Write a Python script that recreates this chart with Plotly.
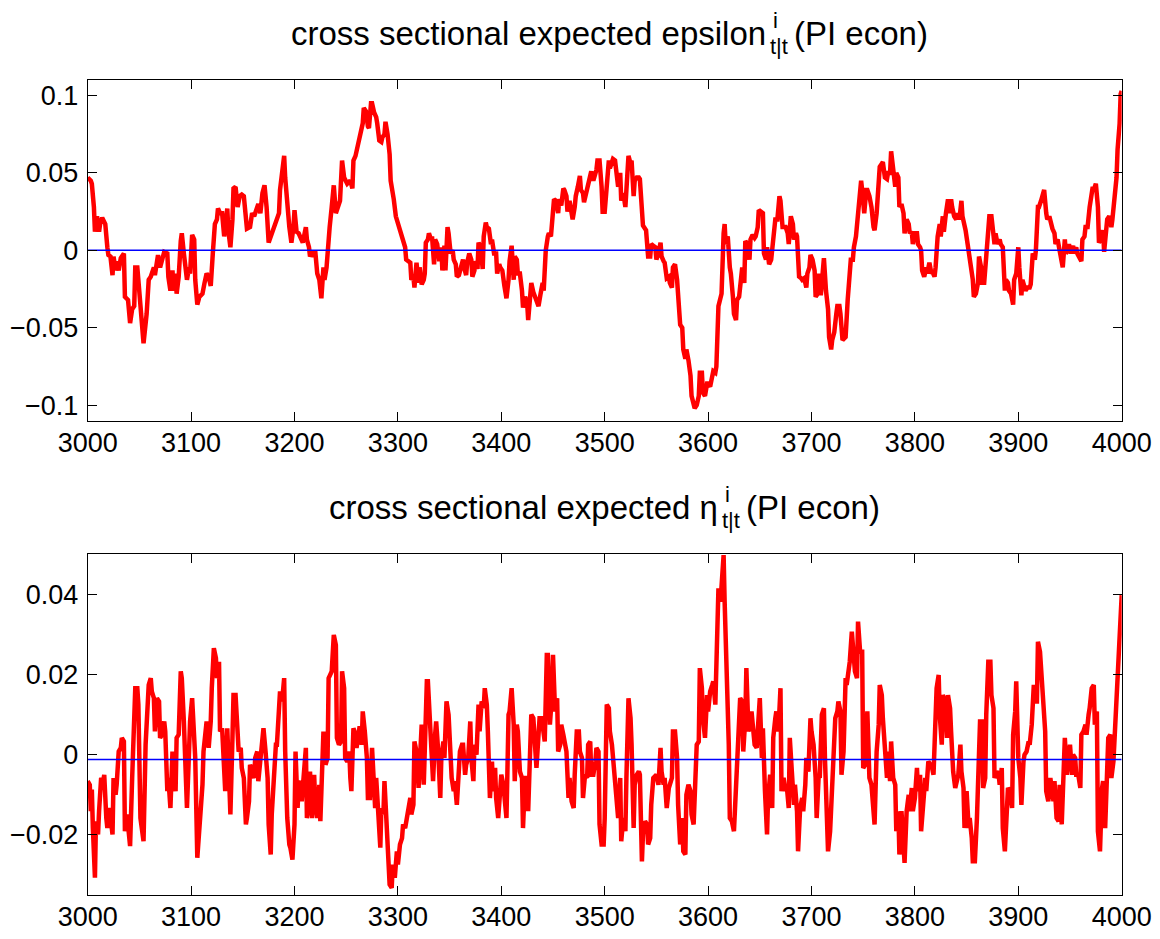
import plotly.graph_objects as go

# ---------------------------------------------------------------------------
# Data: cross-sectional expectations, periods 3000-4000
# ---------------------------------------------------------------------------
eps_points = [
    (3000, 0.047), (3003, 0.045), (3004, 0.043), (3006, 0.028), (3007, 0.012), (3009, 0.022), (3011, 0.012), (3012, 0.017), (3014, 0.021), (3017, 0.017),
    (3019, 0.002), (3020, -0.003), (3022, -0.004), (3024, -0.016), (3025, -0.004), (3027, -0.013), (3028, -0.007), (3030, -0.013), (3032, -0.005), (3035, -0.002),
    (3036, -0.030), (3039, -0.032), (3041, -0.047), (3043, -0.038), (3045, -0.036), (3046, -0.011), (3048, -0.011), (3050, -0.028), (3054, -0.060), (3057, -0.041),
    (3059, -0.019), (3061, -0.017), (3064, -0.011), (3065, -0.016), (3068, -0.003), (3070, -0.011), (3072, -0.006), (3074, -0.001), (3077, -0.002), (3078, -0.017),
    (3080, -0.026), (3082, -0.013), (3083, -0.026), (3085, -0.015), (3086, -0.028), (3088, -0.017), (3090, 0.006), (3091, 0.011), (3093, -0.002), (3095, -0.011),
    (3096, -0.019), (3098, -0.011), (3099, -0.015), (3101, 0.010), (3103, 0.007), (3104, -0.019), (3106, -0.035), (3108, -0.030), (3111, -0.028), (3113, -0.021),
    (3115, -0.015), (3117, -0.017), (3119, -0.023), (3121, -0.002), (3123, 0.017), (3125, 0.020), (3126, 0.027), (3128, 0.024), (3130, 0.024), (3132, 0.009),
    (3133, 0.015), (3135, 0.027), (3136, 0.013), (3138, 0.002), (3140, 0.020), (3141, 0.040), (3143, 0.041), (3145, 0.028), (3147, 0.035), (3149, 0.036),
    (3151, 0.035), (3152, 0.024), (3154, 0.014), (3157, 0.015), (3159, 0.024), (3161, 0.022), (3164, 0.028), (3165, 0.030), (3167, 0.024), (3169, 0.037),
    (3171, 0.042), (3173, 0.028), (3175, 0.005), (3177, 0.009), (3180, 0.013), (3183, 0.020), (3185, 0.024), (3186, 0.039), (3188, 0.050), (3190, 0.061),
    (3191, 0.047), (3193, 0.028), (3195, 0.015), (3197, 0.005), (3199, 0.015), (3200, 0.026), (3202, 0.012), (3204, 0.011), (3206, 0.007), (3208, 0.005),
    (3211, 0.015), (3212, 0.007), (3214, 0.002), (3215, -0.004), (3217, -0.001), (3219, -0.004), (3220, 0.000), (3222, -0.015), (3224, -0.019), (3226, -0.031),
    (3228, -0.011), (3229, -0.019), (3231, -0.011), (3233, 0.009), (3234, 0.015), (3236, 0.028), (3238, 0.042), (3240, 0.024), (3242, 0.028), (3244, 0.032),
    (3246, 0.058), (3248, 0.047), (3251, 0.043), (3254, 0.045),
    (3256, 0.040), (3257, 0.058), (3259, 0.061), (3262, 0.069), (3264, 0.077), (3266, 0.082), (3267, 0.092), (3269, 0.090), (3271, 0.080), (3272, 0.079),
    (3274, 0.095), (3275, 0.095), (3277, 0.089), (3279, 0.086), (3280, 0.082), (3282, 0.071), (3284, 0.070), (3285, 0.073), (3287, 0.075), (3288, 0.083),
    (3290, 0.075), (3292, 0.062), (3293, 0.045), (3295, 0.039), (3296, 0.033), (3298, 0.022), (3300, 0.017), (3302, 0.013), (3305, 0.007), (3307, 0.002),
    (3308, -0.006), (3310, -0.007), (3312, -0.008), (3313, -0.019), (3315, -0.017), (3316, -0.024), (3318, -0.008), (3320, -0.021), (3321, -0.011), (3323, -0.022),
    (3325, -0.019), (3326, -0.015), (3327, 0.005), (3329, 0.007), (3330, 0.011), (3332, 0.007), (3333, 0.009), (3335, -0.009), (3336, 0.007), (3338, 0.004),
    (3340, -0.007), (3342, 0.002), (3343, -0.013), (3345, 0.003), (3346, -0.013), (3348, 0.015), (3349, 0.011), (3351, -0.002), (3353, 0.000), (3354, -0.006),
    (3356, -0.009), (3357, -0.017), (3359, -0.016), (3361, -0.011), (3363, -0.006), (3364, -0.011), (3366, -0.016), (3367, -0.008), (3369, -0.002), (3371, -0.006),
    (3372, -0.017), (3374, -0.013), (3375, -0.007), (3377, -0.012), (3378, 0.005), (3380, 0.002), (3382, -0.012), (3383, 0.009), (3385, 0.018), (3386, 0.015),
    (3388, 0.014), (3390, 0.004), (3391, 0.007), (3393, -0.002), (3395, -0.002), (3396, -0.015), (3398, -0.009), (3399, -0.011), (3401, -0.013), (3403, -0.023),
    (3405, -0.031), (3407, -0.019), (3408, -0.007), (3410, 0.003), (3412, -0.019), (3413, -0.004), (3415, -0.006), (3416, -0.015), (3418, -0.015), (3420, -0.026),
    (3421, -0.037), (3423, -0.030), (3425, -0.034), (3426, -0.045), (3428, -0.032), (3429, -0.021), (3431, -0.027), (3433, -0.031), (3434, -0.034), (3436, -0.036),
    (3438, -0.028), (3440, -0.021), (3441, -0.026), (3443, 0.000), (3445, 0.009), (3446, 0.011), (3448, 0.009), (3450, 0.032), (3451, 0.033), (3453, 0.032),
    (3455, 0.024), (3456, 0.033), (3458, 0.029), (3460, 0.040), (3461, 0.039), (3463, 0.035), (3464, 0.025), (3466, 0.032), (3468, 0.024), (3469, 0.020),
    (3471, 0.028), (3472, 0.035), (3474, 0.041), (3476, 0.048), (3477, 0.039), (3479, 0.037), (3480, 0.031), (3482, 0.037), (3484, 0.043), (3485, 0.045),
    (3487, 0.051), (3489, 0.045), (3490, 0.047), (3492, 0.052), (3493, 0.058), (3495, 0.058), (3497, 0.041), (3498, 0.025), (3500, 0.025), (3502, 0.045),
    (3504, 0.058),
    (3505, 0.053), (3507, 0.058), (3508, 0.059), (3510, 0.058), (3512, 0.047), (3513, 0.041), (3515, 0.050), (3516, 0.032), (3518, 0.037), (3520, 0.028),
    (3521, 0.039), (3523, 0.061), (3525, 0.056), (3526, 0.058), (3528, 0.035), (3529, 0.045), (3531, 0.047), (3533, 0.047), (3534, 0.046), (3536, 0.020),
    (3537, 0.016), (3540, 0.013), (3542, -0.004), (3544, -0.004), (3545, 0.004), (3547, 0.003), (3549, 0.002), (3550, -0.006), (3552, -0.002), (3554, 0.005),
    (3555, -0.004), (3557, -0.007), (3558, -0.008), (3560, -0.018), (3562, -0.017), (3563, -0.021), (3565, -0.024), (3566, -0.011), (3568, -0.009), (3570, -0.019),
    (3571, -0.030), (3573, -0.048), (3575, -0.050), (3576, -0.064), (3578, -0.070), (3579, -0.064), (3581, -0.071), (3583, -0.081), (3584, -0.094), (3586, -0.098),
    (3587, -0.102), (3589, -0.100), (3591, -0.094), (3592, -0.079), (3594, -0.079), (3595, -0.092), (3597, -0.094), (3599, -0.086), (3600, -0.086), (3602, -0.088),
    (3604, -0.080), (3605, -0.078), (3607, -0.079), (3608, -0.075), (3610, -0.036), (3612, -0.030), (3613, -0.028), (3615, 0.011), (3616, 0.017), (3617, 0.004),
    (3619, 0.009), (3621, -0.011), (3622, -0.015), (3624, -0.030), (3625, -0.041), (3627, -0.045), (3628, -0.032), (3630, -0.030), (3632, -0.013), (3633, -0.011),
    (3635, -0.021), (3636, 0.006), (3638, 0.004), (3640, -0.006), (3641, 0.007), (3643, 0.010), (3645, 0.008), (3646, 0.009), (3648, 0.015), (3649, 0.026),
    (3651, 0.025), (3653, 0.024), (3654, -0.002), (3656, -0.006), (3657, 0.002), (3659, -0.009), (3661, -0.006), (3662, 0.002), (3664, 0.011), (3665, 0.020),
    (3667, 0.020), (3669, 0.035), (3670, 0.032), (3672, 0.015), (3674, 0.015), (3675, 0.015), (3677, 0.011), (3678, 0.004), (3680, 0.022), (3682, 0.017),
    (3683, 0.007), (3685, 0.011), (3686, 0.009), (3688, -0.017), (3690, -0.018), (3691, -0.019), (3693, -0.018), (3695, -0.024), (3696, -0.015), (3698, -0.011),
    (3699, -0.003), (3701, -0.006), (3703, -0.013), (3704, -0.030), (3706, -0.028), (3707, -0.015), (3709, -0.029), (3711, -0.006), (3712, -0.005), (3714, -0.026),
    (3716, -0.038), (3717, -0.056), (3719, -0.064), (3720, -0.058), (3722, -0.053), (3724, -0.041), (3725, -0.036), (3727, -0.036), (3728, -0.041), (3730, -0.058),
    (3732, -0.056), (3733, -0.056), (3735, -0.032), (3736, -0.021), (3738, -0.006), (3740, -0.006), (3741, 0.002), (3743, 0.009), (3745, 0.024), (3746, 0.035),
    (3748, 0.045), (3749, 0.039), (3751, 0.024), (3753, 0.039), (3754, 0.039), (3756, 0.035),
    (3758, 0.028), (3760, 0.015), (3761, 0.013), (3763, 0.024), (3765, 0.045), (3766, 0.054), (3768, 0.056), (3769, 0.057), (3771, 0.047), (3773, 0.046),
    (3774, 0.050), (3776, 0.050), (3777, 0.064), (3779, 0.054), (3781, 0.041), (3782, 0.050), (3784, 0.047), (3785, 0.028), (3787, 0.030), (3789, 0.024),
    (3790, 0.011), (3792, 0.020), (3794, 0.017), (3795, 0.011), (3797, 0.012), (3798, 0.004), (3800, 0.011), (3802, 0.011), (3803, 0.004), (3805, 0.002),
    (3806, 0.000), (3807, -0.013), (3809, -0.017), (3811, -0.011), (3812, -0.015), (3814, -0.008), (3816, -0.015), (3817, -0.014), (3819, -0.017), (3820, -0.011),
    (3822, 0.009), (3824, 0.017), (3825, 0.009), (3827, 0.022), (3828, 0.012), (3830, 0.024), (3832, 0.033), (3833, 0.024), (3835, 0.033), (3836, 0.028),
    (3838, 0.022), (3840, 0.020), (3841, 0.024), (3843, 0.020), (3845, 0.032), (3846, 0.022), (3848, 0.017), (3849, 0.013), (3851, 0.004), (3853, -0.006),
    (3854, -0.011), (3856, -0.019), (3857, -0.030), (3859, -0.028), (3861, -0.021), (3862, -0.004), (3864, -0.011), (3865, -0.021), (3867, -0.021), (3869, -0.004),
    (3870, 0.004), (3872, 0.022), (3874, 0.022), (3875, 0.017), (3877, 0.004), (3878, 0.011), (3880, 0.004), (3882, 0.007), (3883, 0.004), (3885, 0.002),
    (3887, -0.026), (3888, -0.019), (3890, -0.021), (3891, -0.026), (3893, -0.028), (3895, -0.035), (3896, -0.019), (3898, -0.015), (3900, 0.002), (3901, -0.011),
    (3903, -0.029), (3904, -0.019), (3906, -0.026), (3907, -0.026), (3909, -0.024), (3911, -0.024), (3912, -0.022), (3914, -0.002), (3916, -0.006), (3917, 0.000),
    (3919, 0.028), (3920, 0.028), (3922, 0.032), (3924, 0.036), (3925, 0.039), (3927, 0.024), (3928, 0.020), (3930, 0.022), (3932, 0.015), (3933, 0.014),
    (3935, 0.011), (3936, 0.004), (3938, 0.007), (3940, -0.002), (3941, -0.004), (3943, -0.011), (3945, 0.007), (3946, -0.002), (3948, 0.000), (3949, 0.004),
    (3951, -0.002), (3953, 0.003), (3954, -0.002), (3956, 0.002), (3957, -0.002), (3959, -0.004), (3961, -0.007), (3962, 0.007), (3964, 0.009), (3965, 0.015),
    (3967, 0.015), (3969, 0.028), (3970, 0.032), (3972, 0.041), (3973, 0.039), (3975, 0.043), (3977, 0.028), (3978, 0.005), (3980, 0.007), (3982, 0.013),
    (3983, -0.001), (3985, 0.011), (3986, 0.020), (3988, 0.022), (3990, 0.015), (3991, 0.020), (3993, 0.032), (3995, 0.047), (3996, 0.065), (3998, 0.082),
    (3999, 0.101), (4000, 0.103),
]

eta_points = [
    (3000, -0.0066), (3002, -0.0075), (3003, -0.0141), (3004, -0.0087), (3005, -0.0183), (3007, -0.0307), (3008, -0.0166), (3010, -0.0199), (3011, -0.0141), (3013, -0.0058),
    (3015, -0.0066), (3016, -0.0050), (3018, -0.0158), (3019, -0.0183), (3021, -0.0133), (3023, -0.0183), (3024, -0.0199), (3025, -0.0058), (3027, -0.0100), (3028, -0.0075),
    (3030, 0.0008), (3032, 0.0017), (3033, 0.0042), (3035, 0.0033), (3036, -0.0191), (3038, -0.0149), (3040, -0.0208), (3041, -0.0228), (3043, -0.0058), (3045, 0.0116),
    (3046, 0.0166), (3048, 0.0166), (3049, 0.0125), (3051, -0.0158), (3053, -0.0199), (3054, -0.0216), (3056, 0.0025), (3057, 0.0083), (3059, 0.0174), (3061, 0.0191),
    (3062, 0.0158), (3064, 0.0141), (3065, 0.0058), (3067, 0.0141), (3069, 0.0133), (3070, 0.0042), (3072, 0.0050), (3074, 0.0083), (3075, 0.0058), (3077, -0.0091),
    (3078, -0.0058), (3080, -0.0133), (3082, 0.0008), (3083, -0.0042), (3085, -0.0091), (3086, 0.0042), (3088, 0.0050), (3090, 0.0208), (3091, 0.0191), (3093, 0.0083),
    (3095, -0.0075), (3096, -0.0133), (3098, 0.0008), (3099, 0.0083), (3101, 0.0141), (3103, 0.0025), (3104, -0.0008), (3106, -0.0257), (3108, -0.0191), (3109, -0.0133),
    (3111, -0.0075), (3112, 0.0008), (3114, 0.0083), (3115, 0.0083), (3117, 0.0017), (3119, 0.0083), (3120, 0.0166), (3122, 0.0266), (3124, 0.0241), (3125, 0.0191),
    (3127, 0.0232), (3128, 0.0058), (3130, 0.0066), (3132, -0.0083), (3133, -0.0091), (3135, 0.0066), (3136, -0.0008), (3138, -0.0149), (3140, 0.0042), (3141, 0.0149),
    (3143, 0.0149), (3145, 0.0033), (3146, 0.0008), (3148, 0.0017), (3149, -0.0033), (3151, -0.0058), (3153, -0.0174), (3154, -0.0158), (3156, -0.0116), (3157, -0.0025),
    (3159, -0.0042), (3161, -0.0058), (3162, -0.0008), (3164, 0.0008), (3165, -0.0066), (3167, -0.0008), (3169, 0.0058), (3170, 0.0066), (3172, 0.0008), (3174, -0.0058),
    (3175, -0.0174), (3177, -0.0249), (3178, -0.0149), (3180, -0.0058), (3182, 0.0025), (3183, 0.0025), (3185, 0.0108), (3186, 0.0158), (3188, 0.0133), (3190, 0.0191),
    (3191, 0.0008), (3193, -0.0158), (3195, -0.0224), (3196, -0.0232), (3198, -0.0262), (3200, -0.0174), (3201, 0.0008), (3203, -0.0133), (3204, -0.0075), (3206, -0.0066),
    (3207, -0.0116), (3209, -0.0058), (3211, 0.0017), (3212, -0.0158), (3214, -0.0125), (3215, -0.0042), (3217, -0.0158), (3219, -0.0050), (3220, -0.0116), (3222, -0.0158),
    (3224, -0.0075), (3225, -0.0166), (3227, 0.0000), (3228, 0.0058), (3230, -0.0025), (3232, -0.0008), (3233, 0.0191), (3235, 0.0199), (3236, 0.0208), (3238, 0.0299),
    (3240, 0.0274), (3241, 0.0042), (3243, 0.0025), (3245, 0.0033), (3246, 0.0208), (3248, 0.0166), (3249, -0.0008), (3251, -0.0017), (3253, 0.0008),
    (3254, -0.0058), (3255, -0.0091), (3257, 0.0066), (3258, 0.0058), (3260, 0.0017), (3262, 0.0050), (3263, 0.0071), (3265, 0.0025), (3266, 0.0108), (3268, 0.0058),
    (3270, -0.0008), (3271, -0.0108), (3273, -0.0108), (3275, 0.0017), (3276, -0.0058), (3278, -0.0133), (3279, -0.0058), (3281, -0.0141), (3283, -0.0232), (3284, -0.0133),
    (3286, -0.0149), (3287, -0.0066), (3289, -0.0166), (3291, -0.0224), (3292, -0.0324), (3294, -0.0332), (3295, -0.0274), (3297, -0.0307), (3299, -0.0241), (3300, -0.0274),
    (3302, -0.0224), (3304, -0.0208), (3305, -0.0174), (3307, -0.0183), (3308, -0.0166), (3310, -0.0133), (3312, -0.0108), (3313, -0.0149), (3315, -0.0125), (3316, 0.0033),
    (3318, 0.0008), (3320, -0.0083), (3321, -0.0042), (3323, 0.0075), (3325, -0.0075), (3326, 0.0033), (3328, 0.0183), (3329, 0.0183), (3331, 0.0091), (3333, 0.0008),
    (3334, -0.0066), (3336, 0.0050), (3337, 0.0083), (3339, 0.0008), (3341, -0.0108), (3342, -0.0008), (3344, 0.0033), (3345, -0.0008), (3347, 0.0133), (3349, 0.0100),
    (3350, 0.0033), (3352, -0.0058), (3354, -0.0091), (3355, -0.0066), (3357, -0.0125), (3358, -0.0075), (3360, 0.0008), (3362, 0.0025), (3363, 0.0025), (3365, -0.0050),
    (3366, -0.0025), (3368, -0.0008), (3370, 0.0083), (3371, -0.0008), (3373, -0.0066), (3374, 0.0025), (3376, 0.0000), (3378, 0.0125), (3379, 0.0058), (3381, 0.0133),
    (3383, 0.0116), (3384, 0.0166), (3386, 0.0125), (3387, 0.0058), (3389, -0.0108), (3391, -0.0017), (3392, -0.0091), (3394, -0.0033), (3395, -0.0108), (3397, -0.0158),
    (3399, -0.0050), (3400, -0.0050), (3402, -0.0075), (3404, -0.0149), (3405, -0.0158), (3407, 0.0100), (3408, 0.0108), (3410, 0.0166), (3412, 0.0075), (3413, -0.0066),
    (3415, 0.0075), (3416, 0.0058), (3418, -0.0042), (3420, -0.0058), (3421, -0.0183), (3423, -0.0058), (3425, -0.0058), (3426, -0.0141), (3428, 0.0058), (3429, 0.0100),
    (3431, 0.0091), (3433, -0.0025), (3434, -0.0033), (3436, 0.0050), (3437, 0.0091), (3439, 0.0091), (3441, 0.0042), (3442, 0.0033), (3444, 0.0249), (3445, 0.0249),
    (3447, 0.0075), (3449, 0.0149), (3450, 0.0249), (3452, 0.0108), (3454, 0.0141), (3455, 0.0008), (3457, 0.0025), (3458, 0.0075), (3460, 0.0050), (3462, 0.0025),
    (3463, 0.0008), (3465, -0.0108), (3466, -0.0058), (3468, -0.0116), (3470, -0.0133), (3471, -0.0050), (3473, 0.0058), (3475, 0.0058), (3476, 0.0008), (3478, -0.0008),
    (3479, -0.0108), (3481, -0.0050), (3483, -0.0058), (3484, 0.0025), (3486, 0.0033), (3487, -0.0050), (3489, -0.0050), (3491, -0.0017), (3492, 0.0017), (3494, 0.0008),
    (3495, -0.0174), (3497, -0.0224), (3499, -0.0224), (3500, -0.0158), (3502, 0.0125), (3504, 0.0116),
    (3505, 0.0058), (3507, 0.0025), (3508, -0.0008), (3510, -0.0075), (3512, -0.0141), (3513, -0.0158), (3515, -0.0058), (3516, -0.0216), (3518, -0.0158), (3520, -0.0191),
    (3521, -0.0058), (3523, 0.0141), (3525, 0.0091), (3526, 0.0025), (3528, -0.0183), (3529, -0.0075), (3531, -0.0050), (3533, -0.0042), (3534, -0.0050), (3536, -0.0266),
    (3537, -0.0199), (3539, -0.0166), (3541, -0.0174), (3542, -0.0224), (3544, -0.0208), (3545, -0.0125), (3547, -0.0058), (3549, -0.0050), (3550, -0.0050), (3552, -0.0075),
    (3554, 0.0017), (3555, -0.0042), (3557, -0.0075), (3558, -0.0058), (3560, -0.0133), (3562, -0.0083), (3563, -0.0075), (3565, -0.0058), (3566, 0.0058), (3568, 0.0058),
    (3570, -0.0008), (3571, -0.0125), (3573, -0.0224), (3575, -0.0158), (3576, -0.0241), (3578, -0.0249), (3579, -0.0100), (3581, -0.0075), (3583, -0.0091), (3584, -0.0149),
    (3586, -0.0174), (3587, -0.0108), (3589, 0.0025), (3591, 0.0033), (3592, 0.0216), (3594, 0.0166), (3595, 0.0091), (3597, 0.0042), (3599, 0.0149), (3600, 0.0108),
    (3602, 0.0158), (3604, 0.0174), (3605, 0.0183), (3607, 0.0125), (3608, 0.0216), (3610, 0.0415), (3612, 0.0382), (3613, 0.0423), (3615, 0.0498), (3616, 0.0382),
    (3618, 0.0224), (3620, 0.0025), (3621, -0.0158), (3623, -0.0166), (3625, -0.0191), (3626, -0.0141), (3628, 0.0008), (3629, 0.0058), (3631, 0.0141), (3633, 0.0133),
    (3634, 0.0008), (3636, 0.0091), (3637, 0.0216), (3639, 0.0058), (3641, 0.0075), (3642, 0.0108), (3644, 0.0058), (3645, 0.0025), (3647, 0.0017), (3648, 0.0066),
    (3650, 0.0141), (3652, -0.0008), (3653, 0.0066), (3655, -0.0091), (3657, -0.0199), (3658, -0.0108), (3660, -0.0050), (3662, -0.0133), (3663, 0.0042), (3665, 0.0091),
    (3666, 0.0108), (3668, 0.0058), (3670, 0.0166), (3671, -0.0091), (3673, -0.0058), (3675, -0.0091), (3676, -0.0075), (3678, -0.0133), (3679, 0.0042), (3681, -0.0042),
    (3683, -0.0125), (3684, -0.0075), (3686, -0.0141), (3687, -0.0241), (3689, -0.0133), (3691, -0.0108), (3692, -0.0141), (3694, -0.0075), (3695, -0.0008), (3697, -0.0042),
    (3699, 0.0091), (3700, 0.0058), (3702, 0.0025), (3704, -0.0058), (3705, -0.0158), (3707, -0.0050), (3708, -0.0058), (3710, 0.0100), (3712, 0.0116), (3713, -0.0008),
    (3715, -0.0232), (3716, -0.0241), (3718, -0.0191), (3720, -0.0091), (3721, -0.0025), (3723, 0.0091), (3725, 0.0108), (3726, 0.0133), (3728, 0.0108), (3729, -0.0050),
    (3731, 0.0008), (3733, 0.0191), (3734, 0.0174), (3736, 0.0216), (3737, 0.0232), (3739, 0.0307), (3741, 0.0208), (3742, 0.0208), (3744, 0.0191), (3745, 0.0332),
    (3747, 0.0257), (3749, 0.0257), (3750, -0.0033), (3752, -0.0025), (3754, 0.0108), (3755, 0.0008),
    (3756, -0.0058), (3758, -0.0075), (3760, -0.0166), (3761, -0.0174), (3763, 0.0008), (3765, 0.0075), (3766, 0.0174), (3768, 0.0149), (3769, 0.0091), (3771, 0.0025),
    (3773, -0.0058), (3774, 0.0008), (3776, -0.0066), (3777, 0.0033), (3779, -0.0058), (3781, -0.0075), (3782, -0.0191), (3784, -0.0141), (3785, -0.0249), (3787, -0.0141),
    (3789, -0.0224), (3790, -0.0270), (3792, -0.0141), (3794, -0.0100), (3795, -0.0141), (3797, -0.0083), (3798, -0.0141), (3800, -0.0108), (3802, -0.0033), (3803, -0.0091),
    (3805, -0.0050), (3806, -0.0191), (3808, -0.0125), (3810, -0.0058), (3811, -0.0091), (3813, -0.0017), (3815, -0.0025), (3816, -0.0025), (3818, -0.0050), (3819, 0.0025),
    (3821, 0.0166), (3823, 0.0199), (3824, 0.0100), (3826, 0.0025), (3827, 0.0149), (3829, 0.0133), (3831, 0.0042), (3832, 0.0149), (3834, 0.0116), (3835, 0.0058),
    (3837, -0.0042), (3839, -0.0083), (3840, -0.0075), (3842, -0.0050), (3844, 0.0025), (3845, -0.0042), (3847, -0.0083), (3848, -0.0183), (3850, -0.0091), (3852, -0.0183),
    (3853, -0.0158), (3855, -0.0208), (3856, -0.0266), (3858, -0.0266), (3860, -0.0158), (3861, -0.0058), (3863, 0.0083), (3865, 0.0083), (3866, -0.0083), (3868, -0.0058),
    (3869, 0.0100), (3871, 0.0232), (3873, 0.0232), (3874, 0.0149), (3876, 0.0116), (3877, -0.0058), (3879, -0.0042), (3881, -0.0050), (3882, -0.0075), (3884, -0.0033),
    (3885, -0.0183), (3887, -0.0241), (3889, -0.0100), (3890, -0.0083), (3892, -0.0091), (3894, -0.0133), (3895, 0.0050), (3897, 0.0108), (3898, 0.0183), (3900, -0.0008),
    (3902, -0.0058), (3903, -0.0125), (3905, -0.0017), (3906, 0.0000), (3908, 0.0008), (3910, 0.0033), (3911, 0.0025), (3913, 0.0075), (3915, 0.0174), (3916, 0.0133),
    (3918, 0.0133), (3919, 0.0282), (3921, 0.0257), (3923, 0.0183), (3924, 0.0141), (3926, 0.0058), (3927, -0.0091), (3929, -0.0116), (3931, -0.0058), (3932, -0.0083),
    (3934, -0.0116), (3935, -0.0066), (3937, -0.0158), (3939, -0.0166), (3940, -0.0075), (3942, -0.0174), (3944, -0.0017), (3945, 0.0042), (3947, -0.0050), (3948, -0.0025),
    (3950, 0.0025), (3952, -0.0050), (3953, 0.0000), (3955, -0.0008), (3956, -0.0050), (3958, -0.0050), (3960, -0.0083), (3961, 0.0050), (3963, 0.0058), (3965, 0.0075),
    (3966, 0.0050), (3968, 0.0100), (3969, 0.0116), (3971, 0.0166), (3973, 0.0174), (3974, 0.0075), (3976, 0.0108), (3977, -0.0191), (3979, -0.0241), (3981, -0.0083),
    (3982, -0.0066), (3984, -0.0183), (3985, -0.0091), (3987, 0.0042), (3989, 0.0050), (3990, -0.0058), (3992, -0.0017), (3994, 0.0091), (3995, 0.0141), (3997, 0.0274),
    (3998, 0.0315), (4000, 0.0398),
]

# Cross-sectional means drawn as reference lines
eps_mean = 0.0
eta_mean = -0.0012

period_ticks = list(range(3000, 4001, 100))
eps_ticks = [-0.1, -0.05, 0, 0.05, 0.1]
eps_ticktext = ["\u22120.1", "\u22120.05", "0", "0.05", "0.1"]
eta_ticks = [-0.02, 0, 0.02, 0.04]
eta_ticktext = ["\u22120.02", "0", "0.02", "0.04"]

# ---------------------------------------------------------------------------
# Figure
# ---------------------------------------------------------------------------
W, H = 1160, 939
FONT = "Liberation Sans, Arial, Helvetica, sans-serif"
RED = "#ff0000"
BLUE = "#0000ff"


def fx(px):
    return px / W


def fy(px):
    return 1 - px / H


eps_period, eps_value = zip(*eps_points)
eta_period, eta_value = zip(*eta_points)

fig = go.Figure()
fig.add_trace(go.Scatter(x=eps_period, y=eps_value, mode="lines",
                         line=dict(color=RED, width=4.5), xaxis="x", yaxis="y"))
fig.add_trace(go.Scatter(x=[period_ticks[0], period_ticks[-1]], y=[eps_mean, eps_mean], mode="lines",
                         line=dict(color=BLUE, width=1.5), xaxis="x", yaxis="y"))
fig.add_trace(go.Scatter(x=eta_period, y=eta_value, mode="lines",
                         line=dict(color=RED, width=4.5), xaxis="x2", yaxis="y2"))
fig.add_trace(go.Scatter(x=[period_ticks[0], period_ticks[-1]], y=[eta_mean, eta_mean], mode="lines",
                         line=dict(color=BLUE, width=1.5), xaxis="x2", yaxis="y2"))

axis_style = dict(
    showline=True, linecolor="black", linewidth=1, mirror="ticks",
    ticks="inside", ticklen=9, tickwidth=1, tickcolor="black",
    showgrid=False, zeroline=False, automargin=False,
    tickfont=dict(family=FONT, size=27, color="black"),
)

x_domain = [fx(87.7), fx(1121.7)]
fig.update_layout(
    template="none",
    width=W, height=H,
    margin=dict(l=0, r=0, t=0, b=0, pad=0),
    paper_bgcolor="white", plot_bgcolor="white",
    showlegend=False,
    xaxis=dict(domain=x_domain, range=[3000, 4000], tickvals=period_ticks, anchor="y",
               ticklabelstandoff=-2, **axis_style),
    yaxis=dict(domain=[fy(420.7), fy(80)], range=[-0.11, 0.11], tickvals=eps_ticks,
               ticktext=eps_ticktext, anchor="x", ticklabelstandoff=3, **axis_style),
    xaxis2=dict(domain=x_domain, range=[3000, 4000], tickvals=period_ticks, anchor="y2",
                ticklabelstandoff=-2, **axis_style),
    yaxis2=dict(domain=[fy(895), fy(554.3)], range=[-0.035, 0.05], tickvals=eta_ticks,
                ticktext=eta_ticktext, anchor="x2", ticklabelstandoff=3, **axis_style),
)


def add_title(main_text, split_px, center_px, fontsize=33, subsize=22):
    """Title with a stacked superscript i and subscript t|t after main_text."""
    fig.add_annotation(text=main_text, x=fx(split_px), y=fy(center_px), xref="paper", yref="paper",
                       xanchor="right", yanchor="middle", showarrow=False,
                       font=dict(family=FONT, size=fontsize, color="black"))
    fig.add_annotation(text="i", x=fx(split_px + 3), y=fy(center_px - 13), xref="paper", yref="paper",
                       xanchor="left", yanchor="middle", showarrow=False,
                       font=dict(family=FONT, size=subsize, color="black"))
    fig.add_annotation(text="t|t", x=fx(split_px), y=fy(center_px + 13), xref="paper", yref="paper",
                       xanchor="left", yanchor="middle", showarrow=False,
                       font=dict(family=FONT, size=subsize, color="black"))
    fig.add_annotation(text="(PI econ)", x=fx(split_px + 24), y=fy(center_px), xref="paper", yref="paper",
                       xanchor="left", yanchor="middle", showarrow=False,
                       font=dict(family=FONT, size=fontsize, color="black"))


add_title("cross sectional expected epsilon", 768, 34)
add_title("cross sectional expected \u03b7", 720, 507)

fig.write_html("out.html")
